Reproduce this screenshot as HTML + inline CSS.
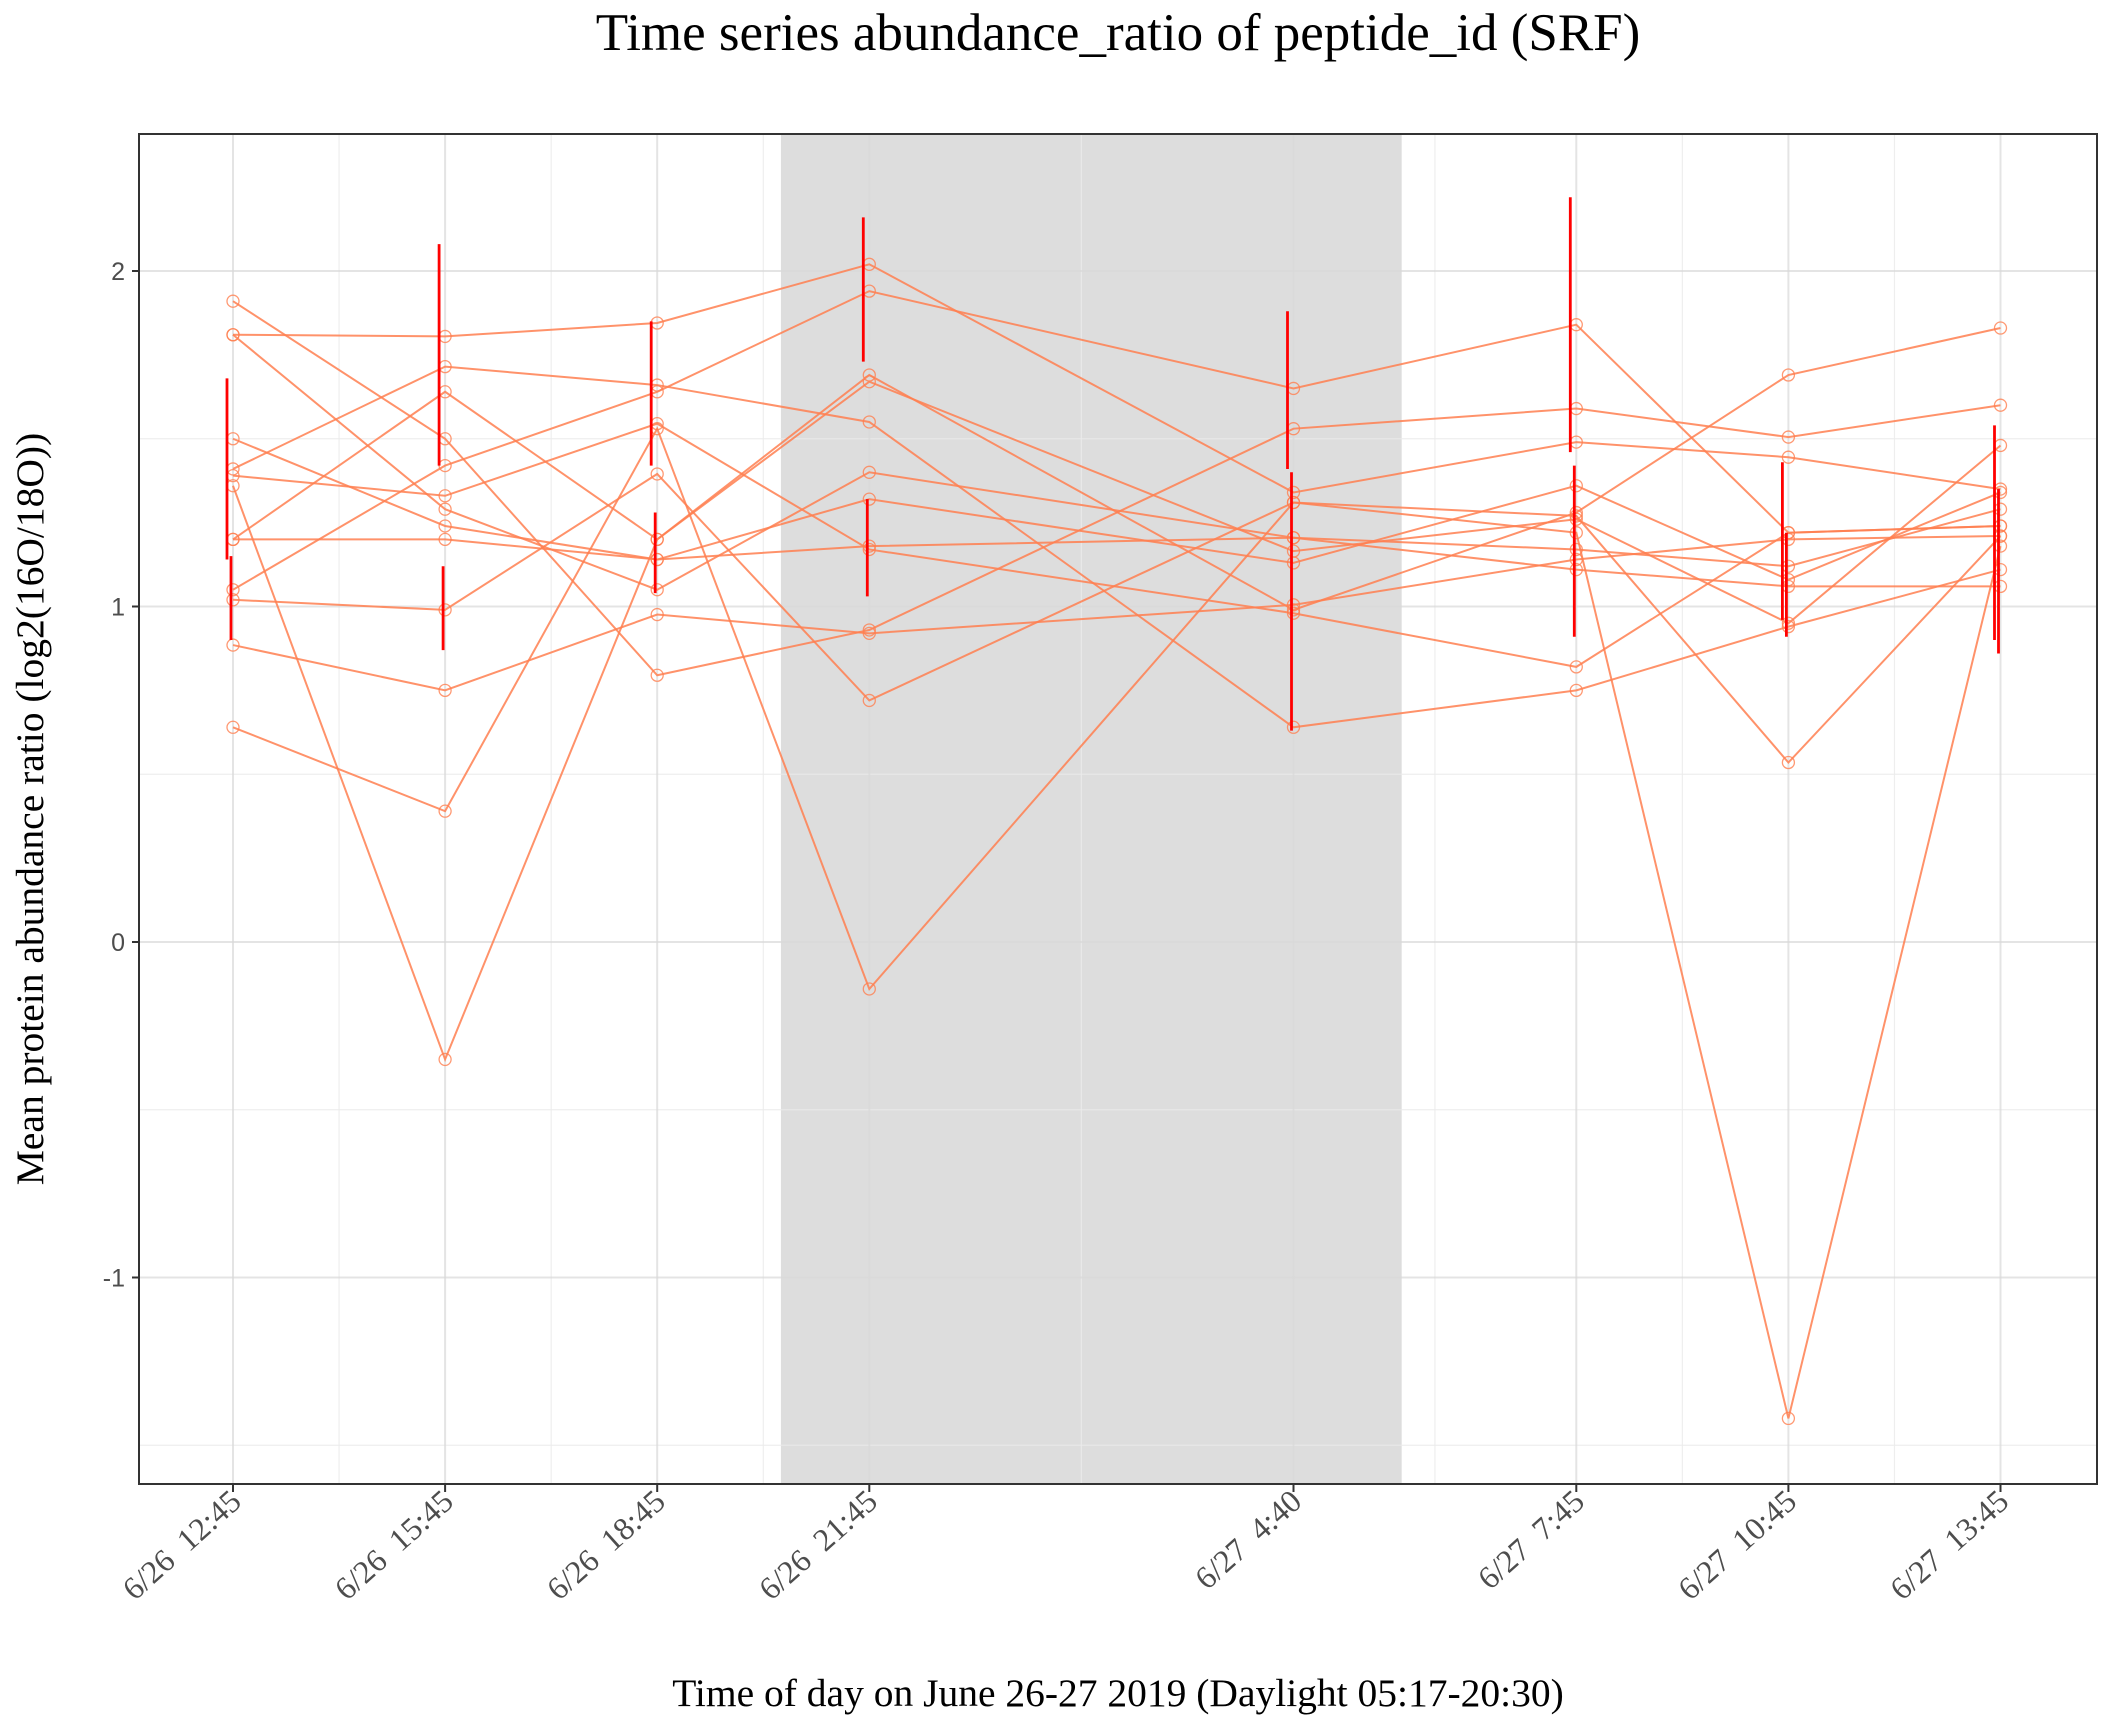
<!DOCTYPE html>
<html><head><meta charset="utf-8"><style>
html,body{margin:0;padding:0;background:#fff;}
svg{display:block;}
</style></head><body>
<svg id="chart" width="2112" height="1728" xmlns="http://www.w3.org/2000/svg">
<rect x="0" y="0" width="2112" height="1728" fill="#fff"/>
<text x="1118" y="50" text-anchor="middle" font-family="Liberation Serif, serif" font-size="53" fill="#000">Time series abundance_ratio of peptide_id (SRF)</text>
<text x="1118" y="1706" text-anchor="middle" font-family="Liberation Serif, serif" font-size="39.5" fill="#000">Time of day on June 26-27 2019 (Daylight 05:17-20:30)</text>
<text transform="translate(43,809) rotate(-90)" text-anchor="middle" font-family="Liberation Serif, serif" font-size="39.5" fill="#000">Mean protein abundance ratio (log2(16O/18O))</text>
<g id="plot"></g>
</svg>
<script>
const tickHours = [0, 3, 6, 9, 15, 19, 22, 25];
const tickLabels = ["6/26  12:45","6/26  15:45","6/26  18:45","6/26  21:45","6/27  4:40","6/27  7:45","6/27  10:45","6/27  13:45"];
const yTicks = [-1, 0, 1, 2];
const yMinor = [-1.5, -0.5, 0.5, 1.5];
const nightStart = 7.75;
const nightEnd = 16.53;
const s1 = [1.81,1.805,1.845,2.02,1.34,1.49,1.445,1.35];
const s2 = [1.05,1.42,1.64,1.94,1.65,1.84,1.22,1.24];
const s3 = [1.91,1.50,0.795,0.93,1.53,1.59,1.505,1.60];
const s4 = [1.41,1.715,1.66,1.55,0.64,0.75,0.94,1.11];
const s5 = [1.20,1.64,1.20,1.69,0.99,1.28,1.69,1.83];
const s6 = [1.36,-0.35,1.20,1.67,1.165,1.26,0.95,1.48];
const s7 = [0.64,0.39,1.53,-0.14,1.31,1.22,-1.42,1.18];
const s8 = [1.20,1.20,1.14,1.18,1.205,1.17,1.12,1.29];
const s9 = [0.885,0.75,0.976,0.92,1.005,1.14,1.20,1.21];
const s10 = [1.81,1.29,1.05,1.40,1.205,1.11,1.06,1.06];
const s11 = [1.50,1.24,1.14,1.32,1.13,1.36,1.08,1.34];
const s12 = [1.02,0.99,1.395,0.72,1.31,1.27,0.535,1.21];
const s13 = [1.39,1.33,1.545,1.17,0.98,0.82,1.22,1.24];
const errHi1 = [1.68,2.08,1.85,2.16,1.88,2.22,1.43,1.54];
const errLo1 = [1.14,1.42,1.42,1.73,1.41,1.46,0.96,0.90];
const errHi2 = [1.15,1.12,1.28,1.32,1.40,1.42,1.22,1.35];
const errLo2 = [0.90,0.87,1.04,1.03,0.63,0.91,0.91,0.86];

const series = [s1,s2,s3,s4,s5,s6,s7,s8,s9,s10,s11,s12,s13];
const L = 139, R = 2097, T = 134, B = 1484;
const xs = h => 233 + h * 70.7;
const ys = v => 942 - v * 335.5;
const NS = "http://www.w3.org/2000/svg";
const g = document.getElementById('plot');
function mk(tag, attrs, parent) {
  const e = document.createElementNS(NS, tag);
  for (const k in attrs) e.setAttribute(k, attrs[k]);
  (parent || g).appendChild(e);
  return e;
}
const shade = mk('rect', {x: xs(nightStart), y: T, width: xs(nightEnd) - xs(nightStart), height: B - T, fill: '#dddddd'});


yMinor.forEach(v => {
  const l = mk('line', {x1: L, x2: R, y1: ys(v), y2: ys(v), stroke: '#ebebeb', 'stroke-width': 1.2, 'opacity': 0.8});
  
  
});
for (let i = 0; i < tickHours.length - 1; i++) {
  const m = (tickHours[i] + tickHours[i + 1]) / 2;
  const l = mk('line', {x1: xs(m), x2: xs(m), y1: T, y2: B, stroke: '#ebebeb', 'stroke-width': 1.2, 'opacity': 0.8});
  
  
}
yTicks.forEach(v => {
  const l = mk('line', {x1: L, x2: R, y1: ys(v), y2: ys(v), stroke: '#d9d9d9', 'stroke-width': 2, 'opacity': 0.7});
  
  
  const tk = mk('line', {x1: L - 7, x2: L, y1: ys(v), y2: ys(v), stroke: '#333', 'stroke-width': 2});
  
  
  const t = mk('text', {x: L - 14, y: ys(v) + 9, 'text-anchor': 'end', 'font-family': 'Liberation Sans, sans-serif', 'font-size': 25, fill: '#4d4d4d'});
  t.textContent = v < 0 ? '-' + Math.abs(v) : String(v);
  
  
});
tickHours.forEach((h, i) => {
  const l = mk('line', {x1: xs(h), x2: xs(h), y1: T, y2: B, stroke: '#d9d9d9', 'stroke-width': 2, 'opacity': 0.7});
  
  
  const tk = mk('line', {x1: xs(h), x2: xs(h), y1: B, y2: B + 8, stroke: '#333', 'stroke-width': 2});
  
  
  const t = mk('text', {'text-anchor': 'end', 'font-family': 'Liberation Serif, serif', 'font-size': 32, fill: '#4d4d4d',
    transform: 'translate(' + (xs(h) + 10) + ',' + (B + 20) + ') rotate(-42)'});
  t.style.whiteSpace = 'pre';
  t.textContent = tickLabels[i];
  
  
});
series.forEach((s, si) => {
  const pts = s.map((v, i) => xs(tickHours[i]) + ',' + ys(v)).join(' ');
  const pl = mk('polyline', {points: pts, fill: 'none', stroke: '#ff7f50', 'stroke-width': 2, 'stroke-opacity': 0.85});
  
  
  s.forEach((v, i) => {
    const c = mk('circle', {cx: xs(tickHours[i]), cy: ys(v), r: 6, fill: 'none', stroke: '#ff7f50', 'stroke-width': 1.3, 'stroke-opacity': 0.8});
    
    
  });
});
tickHours.forEach((h, i) => {
  const e1 = mk('line', {x1: xs(h) - 6, x2: xs(h) - 6, y1: ys(errHi1[i]), y2: ys(errLo1[i]), stroke: '#ff0000', 'stroke-width': 2.8});
  
  
  const e2 = mk('line', {x1: xs(h) - 2, x2: xs(h) - 2, y1: ys(errHi2[i]), y2: ys(errLo2[i]), stroke: '#ff0000', 'stroke-width': 2.8});
  
  
});
const border = mk('rect', {x: L, y: T, width: R - L, height: B - T, fill: 'none', stroke: '#333', 'stroke-width': 2});


</script>
</body></html>
